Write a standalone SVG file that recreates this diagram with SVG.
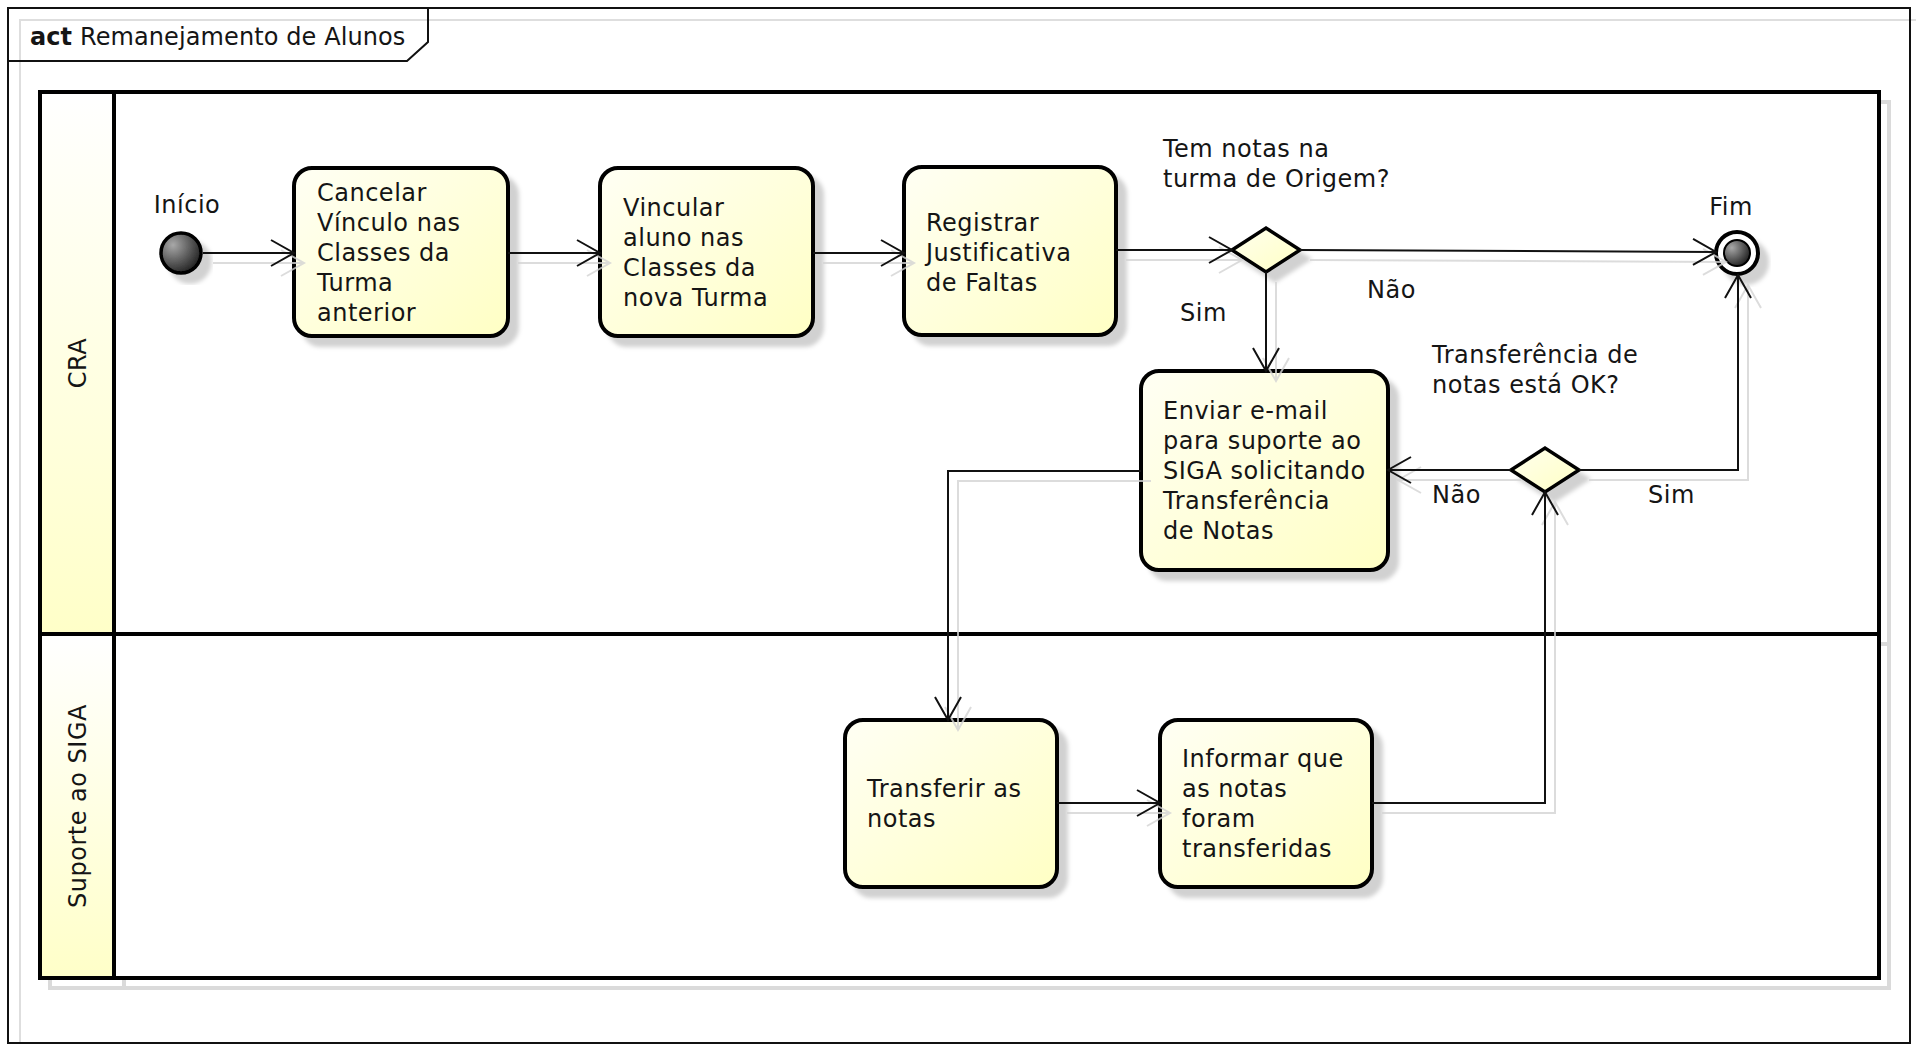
<svg xmlns="http://www.w3.org/2000/svg" width="1916" height="1044" viewBox="0 0 1916 1044">
<style>
text{font-family:"DejaVu Sans","Liberation Sans",sans-serif;font-size:24px;fill:#151515;letter-spacing:0.5px}
.box{stroke:#000;stroke-width:4;fill:url(#boxg)}
.conn{fill:none;stroke:#111;stroke-width:2}
.shad{fill:none;stroke:#d4d4d4;stroke-width:2;opacity:0.8}
.lane{fill:none;stroke:#000;stroke-width:4}
.laneS{fill:none;stroke:#dadada;stroke-width:4}
.hdr{stroke:#000;stroke-width:4}
.dia{fill:url(#diag);stroke:#000;stroke-width:3.5}
</style>
<defs>
<linearGradient id="boxg" x1="0" y1="0" x2="1" y2="1">
<stop offset="0" stop-color="#fffff4"/>
<stop offset="1" stop-color="#ffffc4"/>
</linearGradient>
<linearGradient id="diag" x1="0" y1="0" x2="1" y2="1">
<stop offset="0" stop-color="#ffffee"/>
<stop offset="1" stop-color="#ffffc4"/>
</linearGradient>
<linearGradient id="hdrg" x1="0" y1="0" x2="0" y2="1">
<stop offset="0" stop-color="#ffffff"/>
<stop offset="1" stop-color="#ffffc8"/>
</linearGradient>
<radialGradient id="ballg" cx="0.3" cy="0.3" r="0.8">
<stop offset="0" stop-color="#a8a8a8"/>
<stop offset="1" stop-color="#1a1a1a"/>
</radialGradient>
<filter id="ds" x="-20%" y="-20%" width="150%" height="150%">
<feDropShadow dx="9" dy="9" stdDeviation="2" flood-color="#000" flood-opacity="0.18"/>
</filter>
<marker id="arr" markerUnits="userSpaceOnUse" viewBox="-26 -15 28 30" markerWidth="28" markerHeight="30" refX="0" refY="0" orient="auto" overflow="visible">
<path d="M-23,-13 L0,0 L-23,13" fill="none" stroke="#111" stroke-width="2"/>
</marker>
<marker id="arrS" markerUnits="userSpaceOnUse" viewBox="-26 -15 28 30" markerWidth="28" markerHeight="30" refX="0" refY="0" orient="auto" overflow="visible">
<path d="M-23,-13 L0,0 L-23,13" fill="none" stroke="#d4d4d4" stroke-width="2"/>
</marker>
</defs>
<rect width="1916" height="1044" fill="#fff"/>

<g id="frame">
<rect x="20" y="20" width="1910" height="1040" fill="none" stroke="#dedede" stroke-width="2"/>
<rect x="8" y="8" width="1902" height="1035" fill="none" stroke="#111" stroke-width="2"/>
<path d="M8,61 L407,61 L428,42 L428,8" fill="none" stroke="#111" stroke-width="2"/>
<text x="30" y="45" font-size="24" style="letter-spacing:0.1px"><tspan font-weight="bold">act</tspan> Remanejamento de Alunos</text>
</g>

<g id="lanes">
<rect class="laneS" x="50" y="102" width="1839" height="886"/>
<line class="laneS" x1="50" y1="644" x2="1889" y2="644"/>
<line class="laneS" x1="124" y1="102" x2="124" y2="988"/>
<rect x="40" y="92" width="1839" height="886" fill="#fff"/>
<g id="lane-cra">
<rect class="hdr" x="40" y="92" width="74" height="542" fill="url(#hdrg)"/>
<text transform="translate(86,363) rotate(-90)" text-anchor="middle">CRA</text>
</g>
<g id="lane-suporte">
<rect class="hdr" x="40" y="634" width="74" height="344" fill="url(#hdrg)"/>
<text transform="translate(86,806) rotate(-90)" text-anchor="middle">Suporte ao SIGA</text>
</g>
<rect class="lane" x="40" y="92" width="1839" height="886"/>
<line class="lane" x1="40" y1="634" x2="1881" y2="634"/>
</g>

<g id="nodes">
<g id="inicio">
<circle cx="181" cy="253" r="20" fill="url(#ballg)" stroke="#000" stroke-width="3.5" filter="url(#ds)"/>
<text x="187" y="213" text-anchor="middle">Início</text>
</g>
<g id="cancelar">
<rect class="box" x="294" y="168" width="214" height="168" rx="18" filter="url(#ds)"/>
<text x="317"><tspan x="317" y="201">Cancelar</tspan><tspan x="317" y="231">Vínculo nas</tspan><tspan x="317" y="261">Classes da</tspan><tspan x="317" y="291">Turma</tspan><tspan x="317" y="321">anterior</tspan></text>
</g>
<g id="vincular">
<rect class="box" x="600" y="168" width="213" height="168" rx="18" filter="url(#ds)"/>
<text><tspan x="623" y="216">Vincular</tspan><tspan x="623" y="246">aluno nas</tspan><tspan x="623" y="276">Classes da</tspan><tspan x="623" y="306">nova Turma</tspan></text>
</g>
<g id="registrar">
<rect class="box" x="904" y="167" width="212" height="168" rx="18" filter="url(#ds)"/>
<text><tspan x="926" y="231">Registrar</tspan><tspan x="926" y="261">Justificativa</tspan><tspan x="926" y="291">de Faltas</tspan></text>
</g>
<g id="decisao-notas">
<path class="dia" d="M1232,250 L1266,228 L1300,250 L1266,272 Z" filter="url(#ds)"/>
<text><tspan x="1163" y="157">Tem notas na</tspan><tspan x="1163" y="187">turma de Origem?</tspan></text>
</g>
<g id="fim">
<circle cx="1737" cy="253" r="21" fill="#fff" stroke="#000" stroke-width="4" filter="url(#ds)"/>
<circle cx="1737" cy="253" r="13" fill="url(#ballg)" stroke="#000" stroke-width="2"/>
<text x="1731" y="215" text-anchor="middle">Fim</text>
</g>
<g id="enviar">
<rect class="box" x="1141" y="371" width="247" height="199" rx="18" filter="url(#ds)"/>
<text><tspan x="1163" y="419">Enviar e-mail</tspan><tspan x="1163" y="449">para suporte ao</tspan><tspan x="1163" y="479">SIGA solicitando</tspan><tspan x="1163" y="509">Transferência</tspan><tspan x="1163" y="539">de Notas</tspan></text>
</g>
<g id="decisao-ok">
<path class="dia" d="M1511,470 L1545,448 L1579,470 L1545,492 Z" filter="url(#ds)"/>
<text><tspan x="1432" y="363">Transferência de</tspan><tspan x="1432" y="393">notas está OK?</tspan></text>
</g>
<g id="transferir">
<rect class="box" x="845" y="720" width="212" height="167" rx="18" filter="url(#ds)"/>
<text><tspan x="867" y="797">Transferir as</tspan><tspan x="867" y="827">notas</tspan></text>
</g>
<g id="informar">
<rect class="box" x="1160" y="720" width="212" height="167" rx="18" filter="url(#ds)"/>
<text><tspan x="1182" y="767">Informar que</tspan><tspan x="1182" y="797">as notas</tspan><tspan x="1182" y="827">foram</tspan><tspan x="1182" y="857">transferidas</tspan></text>
</g>
</g>

<g id="connector-shadows" transform="translate(10,10)">
<path class="shad" d="M203,253 L294,253" marker-end="url(#arrS)"/>
<path class="shad" d="M508,253 L600,253" marker-end="url(#arrS)"/>
<path class="shad" d="M813,253 L904,253" marker-end="url(#arrS)"/>
<path class="shad" d="M1116,250 L1232,250" marker-end="url(#arrS)"/>
<path class="shad" d="M1300,250 L1716,252" marker-end="url(#arrS)"/>
<path class="shad" d="M1266,272 L1266,371" marker-end="url(#arrS)"/>
<path class="shad" d="M1141,471 L948,471 L948,720" marker-end="url(#arrS)"/>
<path class="shad" d="M1057,803 L1160,803" marker-end="url(#arrS)"/>
<path class="shad" d="M1372,803 L1545,803 L1545,492" marker-end="url(#arrS)"/>
<path class="shad" d="M1511,470 L1388,470" marker-end="url(#arrS)"/>
<path class="shad" d="M1579,470 L1738,470 L1738,275" marker-end="url(#arrS)"/>
</g>

<g id="connectors">
<path class="conn" d="M203,253 L294,253" marker-end="url(#arr)"/>
<path class="conn" d="M508,253 L600,253" marker-end="url(#arr)"/>
<path class="conn" d="M813,253 L904,253" marker-end="url(#arr)"/>
<path class="conn" d="M1116,250 L1232,250" marker-end="url(#arr)"/>
<path class="conn" d="M1300,250 L1716,252" marker-end="url(#arr)"/>
<path class="conn" d="M1266,272 L1266,371" marker-end="url(#arr)"/>
<path class="conn" d="M1141,471 L948,471 L948,720" marker-end="url(#arr)"/>
<path class="conn" d="M1057,803 L1160,803" marker-end="url(#arr)"/>
<path class="conn" d="M1372,803 L1545,803 L1545,492" marker-end="url(#arr)"/>
<path class="conn" d="M1511,470 L1388,470" marker-end="url(#arr)"/>
<path class="conn" d="M1579,470 L1738,470 L1738,275" marker-end="url(#arr)"/>
<text x="1367" y="298">Não</text>
<text x="1180" y="321">Sim</text>
<text x="1432" y="503">Não</text>
<text x="1648" y="503">Sim</text>
</g>
</svg>
